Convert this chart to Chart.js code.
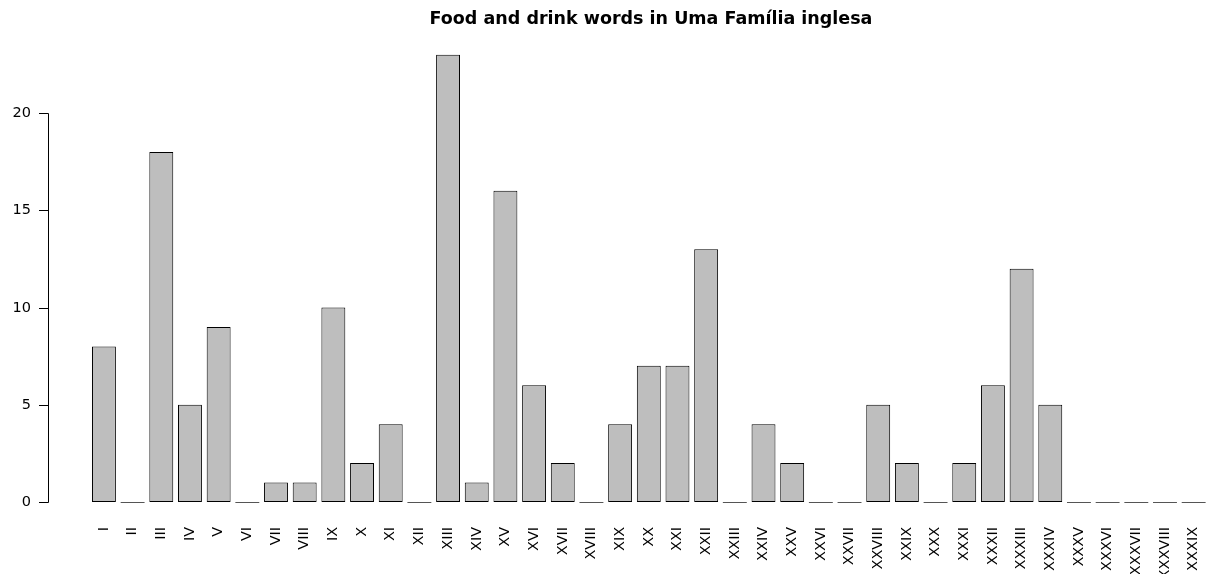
<!DOCTYPE html>
<html>
<head>
<meta charset="utf-8">
<title>Food and drink words in Uma Família inglesa</title>
<script src="https://cdn.jsdelivr.net/npm/chart.js@4.4.1/dist/chart.umd.min.js"></script>
<style>
    html, body { margin: 0; padding: 0; background: #fff; overflow: hidden; }
    canvas { display: block; }
</style>
</head>
<body>
<canvas id="foodChart" width="1208" height="574"></canvas>
<script>
// Chapter labels (roman numerals) and counts of food/drink words per chapter
const chapters = ['I', 'II', 'III', 'IV', 'V', 'VI', 'VII', 'VIII', 'IX', 'X',
    'XI', 'XII', 'XIII', 'XIV', 'XV', 'XVI', 'XVII', 'XVIII', 'XIX', 'XX',
    'XXI', 'XXII', 'XXIII', 'XXIV', 'XXV', 'XXVI', 'XXVII', 'XXVIII', 'XXIX', 'XXX',
    'XXXI', 'XXXII', 'XXXIII', 'XXXIV', 'XXXV', 'XXXVI', 'XXXVII', 'XXXVIII', 'XXXIX'];
const wordCounts = [8, 0, 18, 5, 9, 0, 1, 1, 10, 2,
    4, 0, 23, 1, 16, 6, 2, 0, 4, 7,
    7, 13, 0, 4, 2, 0, 0, 5, 2, 0,
    2, 6, 12, 5, 0, 0, 0, 0, 0];
const yTicks = [0, 5, 10, 15, 20];

const chartTitle = 'Food and drink words in Uma Família inglesa';
const FONT = '"DejaVu Sans", sans-serif';

// R-style y axis: line only spanning the tick range, horizontal labels
const rAxisPlugin = {
    id: 'rAxis',
    afterDraw(chart) {
        const ctx = chart.ctx;
        const y = chart.scales.y;
        const axisX = 48;
        ctx.save();
        ctx.strokeStyle = '#000';
        ctx.lineWidth = 1;
        ctx.beginPath();
        ctx.moveTo(axisX + 0.5, Math.round(y.getPixelForValue(yTicks[0])) + 0.5);
        ctx.lineTo(axisX + 0.5, Math.round(y.getPixelForValue(yTicks[yTicks.length - 1])) + 0.5);
        ctx.stroke();
        ctx.font = '14.5px ' + FONT;
        ctx.fillStyle = '#000';
        ctx.textAlign = 'right';
        ctx.textBaseline = 'middle';
        yTicks.forEach(v => {
            const py = Math.round(y.getPixelForValue(v)) + 0.5;
            ctx.beginPath();
            ctx.moveTo(axisX - 9, py);
            ctx.lineTo(axisX + 0.5, py);
            ctx.stroke();
            ctx.fillText(String(v), 31, py);
        });

        // title
        ctx.font = 'bold 17.5px ' + FONT;
        ctx.textAlign = 'center';
        ctx.fillText(chartTitle, 651, 19);
        ctx.restore();
    }
};

// zero-height bars are drawn by R as a flat line
const zeroBarPlugin = {
    id: 'zeroBars',
    afterDatasetsDraw(chart) {
        const ctx = chart.ctx;
        const meta = chart.getDatasetMeta(0);
        const y0 = Math.round(chart.scales.y.getPixelForValue(0)) + 0.5;
        ctx.save();
        ctx.strokeStyle = '#555';
        ctx.lineWidth = 1;
        meta.data.forEach((bar, i) => {
            if (wordCounts[i] !== 0) return;
            ctx.beginPath();
            ctx.moveTo(bar.x - bar.width / 2, y0);
            ctx.lineTo(bar.x + bar.width / 2, y0);
            ctx.stroke();
        });
        ctx.restore();
    }
};

new Chart(document.getElementById('foodChart'), {
    type: 'bar',
    data: {
        labels: chapters,
        datasets: [{
            data: wordCounts,
            backgroundColor: '#BEBEBE',
            borderColor: '#000',
            borderWidth: 1,
            borderSkipped: false,
            barPercentage: 0.834,
            categoryPercentage: 1.0
        }]
    },
    options: {
        responsive: false,
        animation: false,
        layout: { padding: { left: 89.6, right: 0, top: 36.8, bottom: 0 } },
        plugins: {
            legend: { display: false },
            title: { display: false },
            tooltip: { enabled: false }
        },
        scales: {
            x: {
                grid: { display: false, drawTicks: false },
                border: { display: false },
                afterFit(scale) {
                    scale.height = 54.1;
                    scale.paddingLeft = 0;
                    scale.paddingRight = 0;
                },
                ticks: {
                    autoSkip: false,
                    maxRotation: 90,
                    minRotation: 90,
                    padding: 7,
                    color: '#000',
                    font: { family: FONT, size: 14.5 }
                }
            },
            y: {
                display: false,
                min: -0.92,
                max: 23.92
            }
        }
    },
    plugins: [rAxisPlugin, zeroBarPlugin]
});
</script>
</body>
</html>
